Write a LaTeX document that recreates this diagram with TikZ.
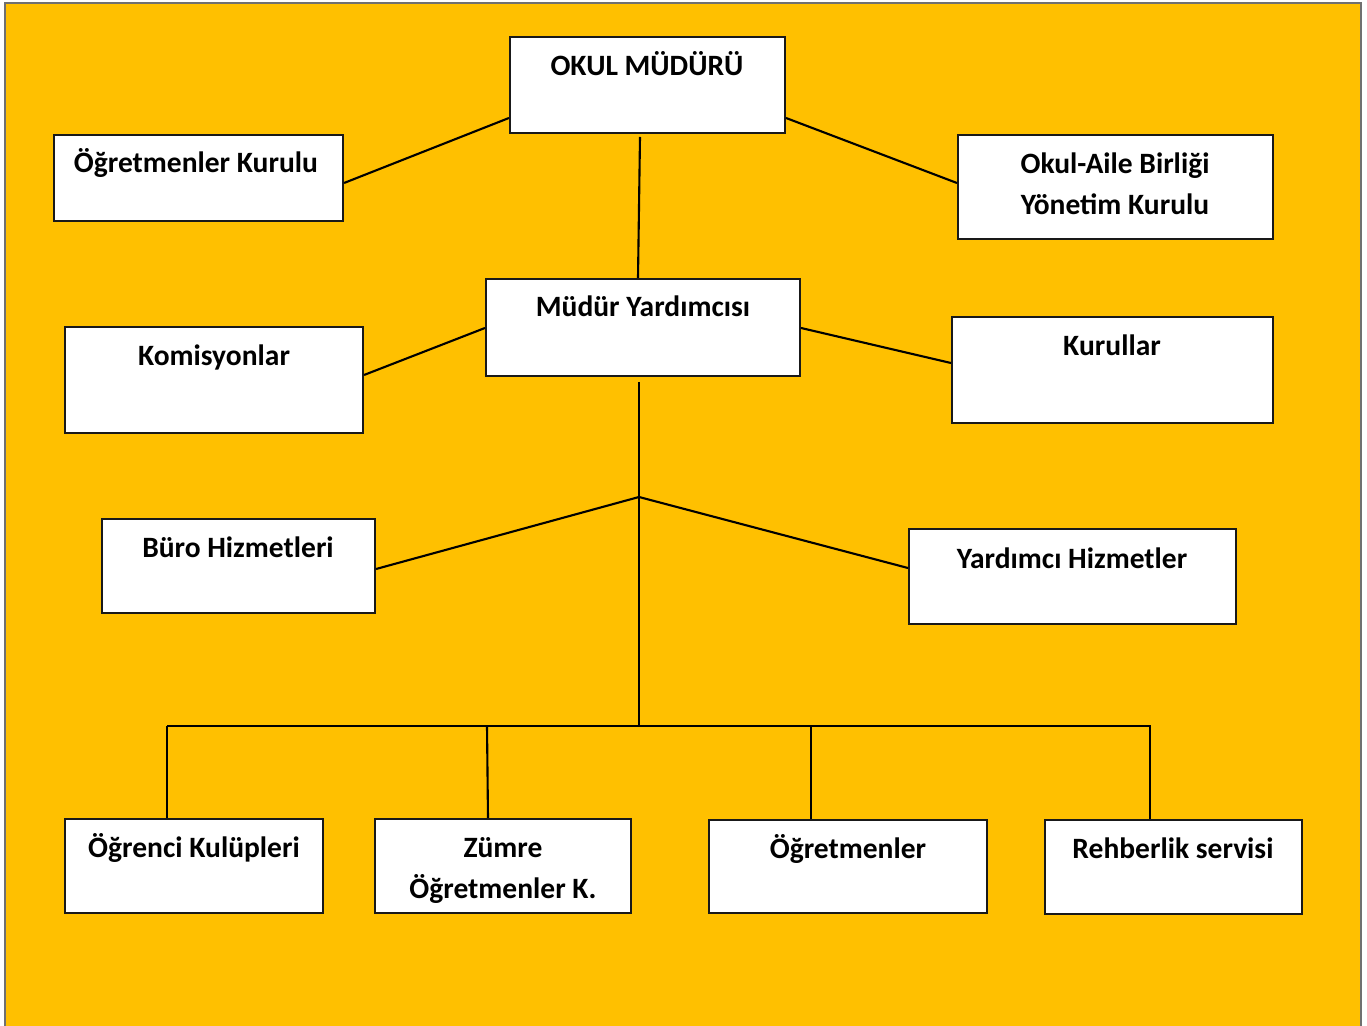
\documentclass[tikz,border=0pt]{standalone}
\usepackage{fontspec}
\setmainfont{Carlito}
\usetikzlibrary{fit}
\definecolor{bgyel}{HTML}{FFC000}
\definecolor{frame}{HTML}{707070}
\tikzset{
  box/.style={draw=black!90, fill=white, line width=1.2pt, inner sep=0pt},
  lbl/.style={anchor=base, font=\fontsize{16.8}{20}\selectfont\bfseries, inner sep=0pt},
  conn/.style={draw=black, line width=1.2pt},
}
\begin{document}
\begin{tikzpicture}[x=0.02cm, y=-0.02cm]
\useasboundingbox (0,0) rectangle (1367,1026);
\fill[white] (0,0) rectangle (1367,1026);
\fill[bgyel] (5,3) rectangle (1361,1026);
\draw[frame, line width=1pt] (5,1026) -- (5,3) -- (1361,3) -- (1361,1026);

% boxes
\node[box, fit={(510,37) (785,133)}] (okul) {};
\node[box, fit={(54,135) (343,221)}] (ogk) {};
\node[box, fit={(958,135) (1273,239)}] (oab) {};
\node[box, fit={(486,279) (800,376)}] (my) {};
\node[box, fit={(65,327) (363,433)}] (kom) {};
\node[box, fit={(952,317) (1273,423)}] (kur) {};
\node[box, fit={(102,519) (375,613)}] (buro) {};
\node[box, fit={(909,529) (1236,624)}] (yh) {};
\node[box, fit={(65,819) (323,913)}] (ogr) {};
\node[box, fit={(375,819) (631,913)}] (zum) {};
\node[box, fit={(709,820) (987,913)}] (ogt) {};
\node[box, fit={(1045,820) (1302,914)}] (reh) {};

% labels
\node[lbl] (t1) at (647,76) {OKUL MÜDÜRÜ};
\node[lbl] (t2) at (196,173) {Öğretmenler Kurulu};
\node[lbl] (t3) at (1115,174) {Okul-Aile Birliği};
\node[lbl] (t3b) at (1115,215) {Yönetim Kurulu};
\node[lbl] (t4) at (643,317) {Müdür Yardımcısı};
\node[lbl] (t5) at (214,366) {Komisyonlar};
\node[lbl] (t6) at (1112,356) {Kurullar};
\node[lbl] (t7) at (238,558) {Büro Hizmetleri};
\node[lbl] (t8) at (1072,569) {Yardımcı Hizmetler};
\node[lbl] (t9) at (194,858) {Öğrenci Kulüpleri};
\node[lbl] (t10) at (503,858) {Zümre};
\node[lbl] (t10b) at (503,899) {Öğretmenler K.};
\node[lbl] (t11) at (848,859) {Öğretmenler};
\node[lbl] (t12) at (1173,859) {Rehberlik servisi};

% connector points
\coordinate (a1) at (640,137);
\coordinate (a2) at (639,382);
\coordinate (j1) at (639,497);
\coordinate (j2) at (639,726);
\coordinate (b1) at (167,726);
\coordinate (b2) at (487,726);
\coordinate (b3) at (811,726);
\coordinate (b4) at (1151,726);

% connectors
\draw[conn] (okul.west |- 0,118) -- (ogk.east |- 0,183);
\draw[conn] (okul.east |- 0,118) -- (oab.west |- 0,183);
\draw[conn] (a1) -- (my.north -| 638,0);
\draw[conn] (my.west |- 0,328) -- (kom.east |- 0,375);
\draw[conn] (my.east |- 0,328) -- (kur.west |- 0,363);
\draw[conn] (a2) -- (j1) -- (j2);
\draw[conn] (j1) -- (buro.east |- 0,569);
\draw[conn] (j1) -- (yh.west |- 0,568);
\draw[conn] (b1) -- (b4);
\draw[conn] (b1) -- (ogr.north -| b1);
\draw[conn] (b2) -- (zum.north -| 488,0);
\draw[conn] (b3) -- (ogt.north -| b3);
\draw[conn] (1150,726) -- (reh.north -| 1150,0);
\end{tikzpicture}
\end{document}
